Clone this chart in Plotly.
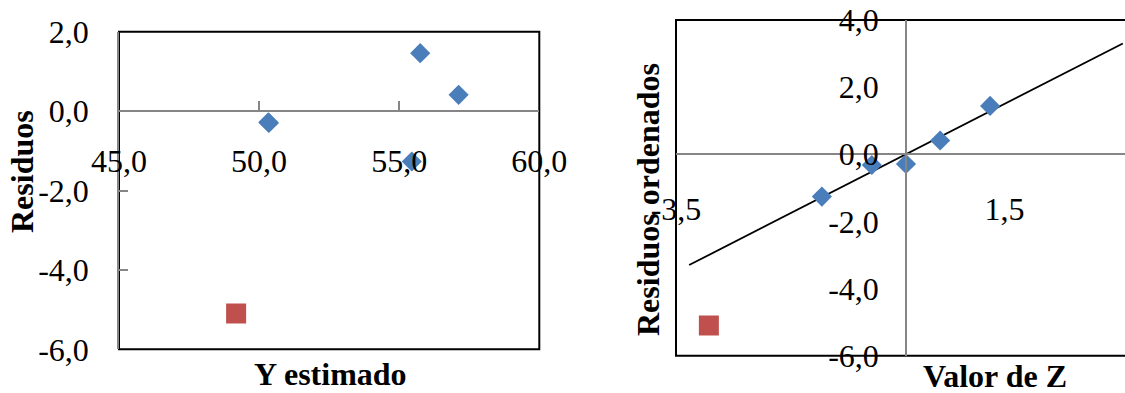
import plotly.graph_objects as go

# Residuals versus fitted values
y_estimado = [50.33, 50.35, 55.75, 57.12, 55.45]
residuos = [-0.28, -0.30, 1.46, 0.41, -1.27]
y_estimado_atipico = [49.18]
residuo_atipico = [-5.10]

# Normal probability plot of the ordered residuals
valor_z = [-1.28, -0.52, 0.0, 0.52, 1.28]
residuos_ordenados = [-1.26, -0.32, -0.29, 0.41, 1.44]
valor_z_atipico = [-3.0]
residuo_ordenado_atipico = [-5.10]
recta_z = [-3.3, 3.3]
recta_residuo = [-3.3, 3.3]

# Axis tick values and their labels (comma decimal, hyphen minus)
x1_ticks = [45.0, 50.0, 55.0, 60.0]
x1_labels = ["45,0", "50,0", "55,0", "60,0"]
y1_ticks = [-6.0, -4.0, -2.0, 0.0, 2.0]
y1_labels = ["-6,0", "-4,0", "-2,0", "0,0", "2,0"]
x2_ticks = [-3.5, 1.5]
x2_labels = ["-3,5", "1,5"]
y2_ticks = [-6.0, -4.0, -2.0, 0.0, 2.0, 4.0]
y2_labels = ["-6,0", "-4,0", "-2,0", "0,0", "2,0", "4,0"]

W, H = 1125, 393
BLUE = "#4A7EBB"
RED = "#C0504D"
GRAY = "#868686"
FONT = "Liberation Serif, Times New Roman, serif"


def px_x(v):
    return v / W


def px_y(v):
    return 1 - v / H


# plot-area boxes (pixels)
L1, R1, T1, B1 = 119, 539.3, 31.7, 349.3
L2, R2, T2, B2 = 676, 1125, 20, 355.7

y1_dom = [px_y(B1), px_y(T1)]
y2_dom = [px_y(B2), px_y(T2)]
x1_range = [45, 60]
y1_range = [-6, 2]
y2_range = [-6, 4]
x2_range = [-3.5, 3.333]

fig = go.Figure()

fig.add_trace(go.Scatter(
    x=y_estimado, y=residuos, mode="markers",
    marker=dict(symbol="diamond", size=15.5, color=BLUE, line=dict(width=0)),
    xaxis="x", yaxis="y", showlegend=False))
fig.add_trace(go.Scatter(
    x=y_estimado_atipico, y=residuo_atipico, mode="markers",
    marker=dict(symbol="square", size=20, color=RED, line=dict(width=0)),
    xaxis="x", yaxis="y", showlegend=False))

fig.add_trace(go.Scatter(
    x=recta_z, y=recta_residuo, mode="lines",
    line=dict(color="black", width=1.8),
    xaxis="x2", yaxis="y2", showlegend=False))
fig.add_trace(go.Scatter(
    x=valor_z, y=residuos_ordenados, mode="markers",
    marker=dict(symbol="diamond", size=15.5, color=BLUE, line=dict(width=0)),
    xaxis="x2", yaxis="y2", showlegend=False))
fig.add_trace(go.Scatter(
    x=valor_z_atipico, y=residuo_ordenado_atipico, mode="markers",
    marker=dict(symbol="square", size=20, color=RED, line=dict(width=0)),
    xaxis="x2", yaxis="y2", showlegend=False))

tick_font = dict(family=FONT, size=32, color="black")
title_font = dict(family=FONT, size=32, color="black")

zero1 = y1_dom[0] + (0 - y1_range[0]) / (y1_range[1] - y1_range[0]) * (y1_dom[1] - y1_dom[0])
zero2 = y2_dom[0] + (0 - y2_range[0]) / (y2_range[1] - y2_range[0]) * (y2_dom[1] - y2_dom[0])
xzero2 = px_x(L2) + (0 - x2_range[0]) / (x2_range[1] - x2_range[0]) * (px_x(R2) - px_x(L2))

fig.update_layout(
    width=W, height=H,
    margin=dict(l=0, r=0, t=0, b=0, autoexpand=False),
    paper_bgcolor="white", plot_bgcolor="white",
    showlegend=False,
    xaxis=dict(
        domain=[px_x(L1), px_x(R1)], range=x1_range,
        tickvals=x1_ticks, ticktext=x1_labels,
        anchor="free", position=zero1, automargin=False,
        showline=True, linecolor=GRAY, linewidth=1.5,
        ticks="inside", ticklen=9, tickcolor=GRAY, tickwidth=1.5,
        showgrid=False, zeroline=False, tickfont=tick_font,
        ticklabelstandoff=22),
    yaxis=dict(
        domain=y1_dom, range=y1_range,
        tickvals=y1_ticks, ticktext=y1_labels,
        anchor="x", automargin=False,
        showline=True, linecolor=GRAY, linewidth=1.5,
        ticks="inside", ticklen=9, tickcolor=GRAY, tickwidth=1.5,
        showgrid=False, zeroline=False, tickfont=tick_font,
        ticklabelstandoff=22),
    xaxis2=dict(
        domain=[px_x(L2), px_x(R2)], range=x2_range,
        tickvals=x2_ticks, ticktext=x2_labels,
        anchor="free", position=zero2, automargin=False,
        showline=True, linecolor=GRAY, linewidth=1.5, ticks="",
        showgrid=False, zeroline=False, tickfont=tick_font,
        ticklabelstandoff=27),
    yaxis2=dict(
        domain=y2_dom, range=y2_range,
        tickvals=y2_ticks, ticktext=y2_labels,
        anchor="free", position=xzero2, automargin=False,
        showline=True, linecolor=GRAY, linewidth=1.5, ticks="",
        showgrid=False, zeroline=False, tickfont=tick_font,
        ticklabelstandoff=20),
    shapes=[
        dict(type="rect", xref="x domain", yref="y domain", x0=0, x1=1, y0=0, y1=1,
             line=dict(color="black", width=2), layer="below"),
        dict(type="rect", xref="x2 domain", yref="y2 domain", x0=0, x1=1.05, y0=0, y1=1,
             line=dict(color="black", width=2), layer="below"),
    ],
    annotations=[
        dict(text="<b>Residuos</b>", textangle=-90, xref="paper", yref="paper",
             x=px_x(22), y=px_y(172), showarrow=False, font=title_font,
             xanchor="center", yanchor="middle"),
        dict(text="<b>Y estimado</b>", xref="paper", yref="paper",
             x=px_x(330), y=px_y(374), showarrow=False, font=title_font,
             xanchor="center", yanchor="middle"),
        dict(text="<b>Residuos ordenados</b>", textangle=-90, xref="paper", yref="paper",
             x=px_x(648), y=px_y(200), showarrow=False, font=title_font,
             xanchor="center", yanchor="middle"),
        dict(text="<b>Valor de Z</b>", xref="paper", yref="paper",
             x=px_x(995), y=px_y(376), showarrow=False, font=title_font,
             xanchor="center", yanchor="middle"),
    ],
)

fig.write_html("out.html")
